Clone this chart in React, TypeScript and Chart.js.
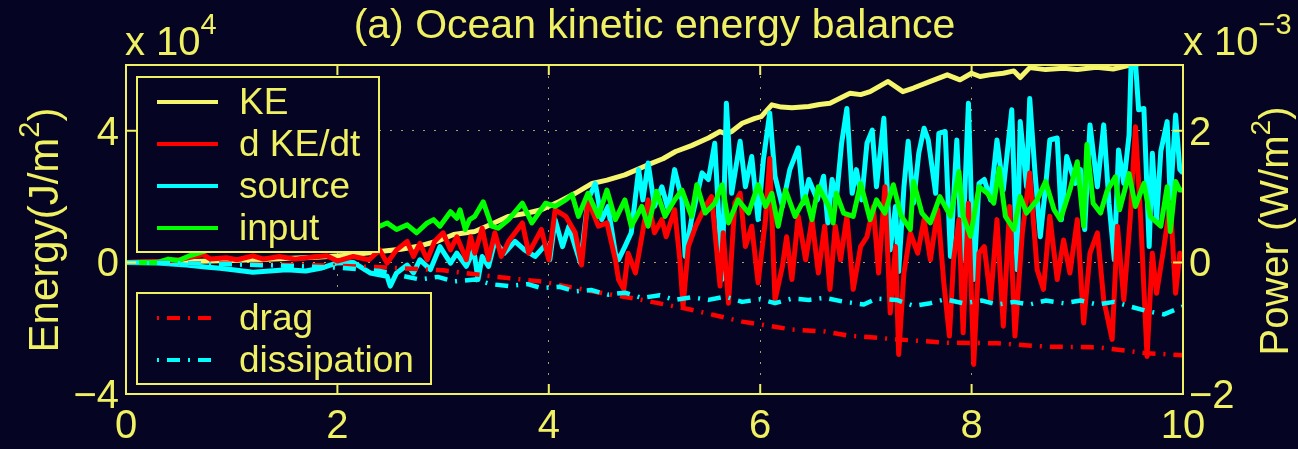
import { useEffect, useRef } from 'react';
import { Chart, registerables } from 'chart.js';

Chart.register(...registerables);

// ---------- data ----------
const xTicks = [0, 2, 4, 6, 8, 10];
const energyTicks = [-4, 0, 4];
const powerTicks = [-2, 0, 2];

const legendTop = ['KE', 'd KE/dt', 'source', 'input'];
const legendBottom = ['drag', 'dissipation'];

// KE (x 10^4 J/m^2), left axis
const keSeries: [number, number][] = [
  [0, 0], [0.3, 0.01], [0.6, 0.03], [1.0, 0.06], [1.4, 0.1], [1.8, 0.16], [2.1, 0.22], [2.4, 0.33],
  [2.6, 0.4], [2.78, 0.5], [2.95, 0.65], [3.1, 0.85], [3.3, 0.94], [3.45, 1.15], [3.62, 1.4], [3.8, 1.5],
  [3.93, 1.6], [4.1, 1.85], [4.25, 2.1], [4.41, 2.4], [4.55, 2.5], [4.72, 2.66], [4.94, 2.97], [5.08, 3.15],
  [5.2, 3.37], [5.35, 3.55], [5.51, 3.78], [5.62, 3.98], [5.68, 3.9], [5.73, 3.98], [5.83, 4.23], [5.95, 4.38],
  [6.01, 4.43], [6.11, 4.79], [6.2, 4.72], [6.3, 4.7], [6.46, 4.74], [6.56, 4.8], [6.66, 4.84], [6.85, 5.14],
  [6.95, 5.1], [7.04, 5.19], [7.21, 5.5], [7.35, 5.19], [7.45, 5.3], [7.61, 5.5], [7.77, 5.7], [7.89, 5.55],
  [8.0, 5.75], [8.08, 5.65], [8.17, 5.7], [8.3, 5.75], [8.4, 5.82], [8.46, 5.62], [8.55, 5.92], [8.7, 5.86],
  [8.87, 5.9], [9.0, 5.86], [9.18, 5.93], [9.34, 5.88], [9.5, 6.0], [9.7, 6.1], [10, 6.2],
];

// d KE/dt (x 10^-3 W/m^2), right axis
const dkeSeries: [number, number][] = [
  [0, 0], [0.3, 0.01], [0.5, 0.04], [0.62, 0.08], [0.73, 0.12], [0.8, 0.05], [0.95, 0.07], [1.05, 0.04],
  [1.2, 0.1], [1.3, 0.05], [1.45, 0.09], [1.6, 0.05], [1.75, 0.08], [1.9, 0.1], [2.0, 0.02], [2.15, 0.09],
  [2.3, 0.04], [2.4, 0.19], [2.47, -0.01], [2.56, 0.19], [2.66, 0.32], [2.72, 0.09], [2.78, 0.29], [2.85, 0.04],
  [2.92, 0.32], [3.0, 0.45], [3.07, 0.19], [3.13, 0.39], [3.22, 0.04], [3.26, 0.39], [3.3, 0.14], [3.37, 0.52],
  [3.43, 0.04], [3.49, 0.45], [3.55, 0.09], [3.62, 0.32], [3.75, 0.6], [3.81, 0.14], [3.93, 0.5], [4.0, 0.04],
  [4.06, 0.8], [4.16, 0.7], [4.25, 0.45], [4.31, -0.04], [4.37, 0.95], [4.47, 0.55], [4.55, 0.6], [4.63, 0.04],
  [4.66, -0.26], [4.71, -0.41], [4.75, 0.14], [4.82, -0.16], [4.88, 0.39], [4.94, 0.95], [5.0, 0.45], [5.07, 0.65],
  [5.11, 0.39], [5.19, 0.8], [5.24, 0.04], [5.27, -0.67], [5.32, 0.24], [5.39, 0.55], [5.48, 0.85], [5.54, 1.0],
  [5.62, -0.36], [5.65, 0.45], [5.7, -0.62], [5.76, 0.9], [5.81, 1.05], [5.86, 0.24], [5.92, 0.55], [5.98, -0.31],
  [6.05, 0.65], [6.09, 1.58], [6.14, -0.57], [6.21, -0.06], [6.25, 0.39], [6.3, -0.26], [6.36, 0.7], [6.43, 0.04],
  [6.49, 0.65], [6.55, -0.16], [6.61, 0.55], [6.66, -0.41], [6.71, 0.55], [6.76, 0.04], [6.82, 0.7], [6.88, -0.41],
  [6.95, 0.24], [7.01, 0.39], [7.07, 0.85], [7.12, -0.16], [7.18, 1.15], [7.23, -0.77], [7.28, 0.24], [7.31, -1.4],
  [7.36, -0.16], [7.42, 0.45], [7.49, 0.14], [7.55, 0.65], [7.61, 0.04], [7.68, 0.8], [7.74, -0.36], [7.79, -1.12],
  [7.83, 0.04], [7.88, 0.65], [7.92, -1.07], [7.97, 0.9], [8.02, -1.55], [8.07, 0.14], [8.12, 0.24], [8.18, -0.57],
  [8.24, 0.65], [8.3, -0.97], [8.36, 0.85], [8.41, -1.12], [8.48, 0.45], [8.55, 1.36], [8.62, -0.11], [8.68, -0.41],
  [8.74, 0.7], [8.81, -0.26], [8.87, 0.34], [8.93, -0.16], [9.0, 0.65], [9.06, -0.92], [9.12, 0.14], [9.19, 0.45],
  [9.25, -0.57], [9.33, -1.17], [9.38, 0.55], [9.44, -0.57], [9.5, 0.65], [9.55, 2.06], [9.6, 0.65], [9.66, -1.43],
  [9.71, 0.14], [9.75, -0.47], [9.82, 0.24], [9.88, 0.9], [9.93, -0.47], [9.97, 0.14], [10, 0.09],
];

// source (x 10^-3 W/m^2), right axis
const sourceSeries: [number, number][] = [
  [0, 0], [0.3, -0.01], [0.57, -0.04], [0.75, -0.07], [0.89, -0.09], [1.05, -0.12], [1.2, -0.15], [1.36, -0.13],
  [1.52, -0.11], [1.7, -0.13], [1.84, -0.09], [1.99, -0.01], [2.15, 0.0], [2.31, -0.16], [2.47, -0.21], [2.5, -0.36],
  [2.56, -0.16], [2.66, -0.04], [2.72, -0.16], [2.78, 0.04], [2.88, -0.11], [2.97, 0.24], [3.07, -0.01], [3.13, 0.14],
  [3.22, -0.06], [3.29, 0.19], [3.33, -0.26], [3.37, 0.09], [3.43, -0.06], [3.49, 0.32], [3.58, 0.14], [3.68, 0.32],
  [3.77, 0.19], [3.87, 0.09], [3.97, 0.27], [4.01, 0.04], [4.06, 0.65], [4.13, 0.24], [4.19, 0.55], [4.25, 0.24],
  [4.3, -0.01], [4.37, 0.95], [4.44, 1.2], [4.5, 0.65], [4.56, 0.85], [4.63, 0.14], [4.66, 0.04], [4.72, 0.24],
  [4.78, 0.45], [4.85, 1.41], [4.89, 0.95], [4.94, 1.51], [5.0, 0.85], [5.07, 1.15], [5.13, 0.8], [5.19, 1.41],
  [5.26, 0.95], [5.29, 0.09], [5.35, 0.65], [5.45, 1.36], [5.51, 1.26], [5.57, 1.81], [5.64, -0.26], [5.68, 2.42],
  [5.73, 1.05], [5.81, 1.84], [5.86, 1.15], [5.92, 1.61], [5.98, 0.65], [6.03, 1.56], [6.09, 2.27], [6.14, 1.31],
  [6.21, 0.85], [6.28, 1.41], [6.36, 1.74], [6.41, 0.9], [6.46, 1.26], [6.54, 0.95], [6.6, 1.31], [6.64, 0.6],
  [6.68, 1.26], [6.72, 0.95], [6.77, 1.81], [6.82, 2.34], [6.87, 1.05], [6.91, 1.41], [6.96, 0.95], [7.01, 1.81],
  [7.06, 2.01], [7.1, 1.15], [7.17, 2.19], [7.23, 0.19], [7.28, 0.85], [7.31, -0.14], [7.36, 1.15], [7.4, 1.84],
  [7.45, 0.9], [7.5, 1.66], [7.55, 2.04], [7.59, 1.86], [7.66, 1.05], [7.69, 1.96], [7.75, 1.99], [7.8, 0.09],
  [7.86, 1.86], [7.91, 0.04], [7.97, 2.42], [8.02, -0.26], [8.07, 1.2], [8.12, 1.26], [8.18, 0.95], [8.24, 1.86],
  [8.3, 1.1], [8.38, 2.32], [8.43, -0.11], [8.46, 2.14], [8.52, 1.15], [8.55, 2.49], [8.6, 1.36], [8.65, 0.39],
  [8.7, 1.15], [8.74, 1.86], [8.81, 1.89], [8.85, 0.65], [8.9, 1.61], [8.98, 1.2], [9.03, 1.41], [9.07, 0.5],
  [9.12, 2.09], [9.19, 1.15], [9.25, 2.09], [9.3, 0.9], [9.35, 0.04], [9.39, 1.71], [9.44, 1.2], [9.49, 1.94],
  [9.51, 3.1], [9.55, 3.05], [9.58, 2.32], [9.63, 2.34], [9.68, 0.24], [9.71, 1.66], [9.75, 0.65], [9.79, 1.69],
  [9.85, 2.14], [9.88, 0.95], [9.93, 2.24], [9.97, 1.41], [10, 1.36],
];

// input (x 10^-3 W/m^2), right axis
const inputSeries: [number, number][] = [
  [0, 0], [0.3, 0], [0.4, 0.05], [0.5, 0.03], [0.6, 0.1], [0.7, 0.15], [0.9, 0.25], [1.1, 0.3],
  [1.4, 0.35], [1.7, 0.4], [2.0, 0.45], [2.2, 0.5], [2.4, 0.55], [2.47, 0.6], [2.56, 0.5], [2.66, 0.57],
  [2.75, 0.45], [2.85, 0.6], [2.91, 0.65], [2.97, 0.55], [3.07, 0.77], [3.13, 0.67], [3.16, 0.8], [3.21, 0.5],
  [3.25, 0.65], [3.3, 0.7], [3.38, 0.92], [3.46, 0.55], [3.52, 0.52], [3.62, 0.65], [3.75, 0.9], [3.84, 0.6],
  [3.97, 0.9], [4.06, 0.85], [4.16, 0.95], [4.22, 1.03], [4.28, 0.7], [4.37, 1.05], [4.47, 0.7], [4.55, 1.1],
  [4.63, 0.65], [4.72, 0.95], [4.78, 0.55], [4.88, 0.85], [4.94, 0.55], [5.02, 1.08], [5.1, 0.7], [5.19, 0.95],
  [5.26, 1.1], [5.35, 0.7], [5.4, 1.18], [5.48, 0.75], [5.57, 0.9], [5.64, 1.18], [5.7, 0.6], [5.79, 0.95],
  [5.89, 0.75], [5.98, 1.18], [6.05, 0.85], [6.11, 1.05], [6.17, 0.55], [6.24, 1.1], [6.33, 0.7], [6.43, 1.0],
  [6.49, 0.65], [6.55, 1.15], [6.65, 0.85], [6.69, 0.6], [6.72, 1.05], [6.79, 0.75], [6.88, 0.7], [6.95, 1.2],
  [7.04, 0.65], [7.1, 0.95], [7.18, 0.75], [7.26, 1.18], [7.33, 0.72], [7.42, 0.5], [7.45, 1.23], [7.53, 0.75],
  [7.61, 0.6], [7.7, 1.0], [7.8, 0.7], [7.88, 1.38], [7.92, 0.7], [7.99, 0.4], [8.07, 1.15], [8.15, 1.05],
  [8.21, 0.9], [8.26, 1.43], [8.32, 0.7], [8.4, 0.5], [8.46, 1.0], [8.52, 0.75], [8.62, 0.95], [8.7, 1.23],
  [8.78, 0.8], [8.84, 0.65], [8.93, 1.1], [9.0, 1.53], [9.06, 0.55], [9.09, 1.79], [9.15, 0.9], [9.22, 0.75],
  [9.28, 1.08], [9.36, 1.3], [9.4, 0.8], [9.49, 1.35], [9.55, 0.85], [9.63, 1.2], [9.69, 0.7], [9.79, 0.55],
  [9.85, 1.15], [9.88, 0.47], [9.93, 1.23], [9.97, 1.1], [10, 1.1],
];

// drag (x 10^-3 W/m^2), right axis
const dragSeries: [number, number][] = [
  [0, 0], [0.5, -0.01], [1, -0.02], [1.5, -0.035], [2, -0.05], [2.5, -0.08], [3, -0.12], [3.5, -0.22],
  [3.93, -0.29], [4.41, -0.44], [4.88, -0.57], [5.35, -0.72], [5.83, -0.9], [6.3, -1.02], [6.61, -1.05],
  [6.82, -1.11], [7.29, -1.17], [7.77, -1.22], [8.24, -1.23], [8.71, -1.28], [9.19, -1.29], [9.66, -1.38], [10, -1.41],
];

// dissipation (x 10^-3 W/m^2), right axis
const dissipationSeries: [number, number][] = [
  [0, 0], [0.5, -0.01], [1, -0.03], [1.5, -0.05], [2, -0.08], [2.4, -0.13], [2.6, -0.2], [2.78, -0.26],
  [2.95, -0.22], [3.1, -0.29], [3.3, -0.26], [3.45, -0.33], [3.62, -0.36], [3.8, -0.33], [3.93, -0.39],
  [4.1, -0.37], [4.25, -0.44], [4.4, -0.42], [4.56, -0.49], [4.72, -0.46], [4.88, -0.54], [5.05, -0.5],
  [5.19, -0.57], [5.35, -0.53], [5.51, -0.57], [5.67, -0.52], [5.83, -0.6], [6.0, -0.56], [6.14, -0.62],
  [6.3, -0.55], [6.46, -0.57], [6.61, -0.54], [6.8, -0.6], [6.98, -0.64], [7.1, -0.55], [7.29, -0.57],
  [7.45, -0.66], [7.61, -0.62], [7.75, -0.56], [7.92, -0.62], [8.1, -0.58], [8.24, -0.64], [8.4, -0.6],
  [8.55, -0.64], [8.7, -0.58], [8.87, -0.62], [9.03, -0.58], [9.19, -0.64], [9.35, -0.6], [9.5, -0.67],
  [9.66, -0.74], [9.82, -0.79], [10, -0.67],
];

// ---------- styles ----------
const BG = 'rgb(5,5,35)';
const YEL = 'rgb(240,240,100)';
const KE_COLOR = 'rgb(245,245,110)';
const RED = 'rgb(255,0,0)';
const CYAN = 'rgb(0,255,255)';
const GREEN = 'rgb(0,255,0)';
const GRID = 'rgba(220,220,110,0.75)';
const FONT = '"Liberation Sans", Arial, Helvetica, sans-serif';
const DASHDOT = [13, 8, 2, 8];

const toPoints = (a: [number, number][]) => a.map(([x, y]) => ({ x, y }));
const fmt = (v: number) => (v < 0 ? '\u2212' + Math.abs(v) : String(v));

type Part = { text: string; size: number; dy?: number };
function drawRich(ctx: CanvasRenderingContext2D, parts: Part[], x: number, y: number, align: 'left' | 'center') {
  ctx.textAlign = 'left';
  ctx.textBaseline = 'alphabetic';
  let total = 0;
  for (const p of parts) {
    ctx.font = `${p.size}px ${FONT}`;
    total += ctx.measureText(p.text).width;
  }
  let cx = align === 'center' ? x - total / 2 : x;
  for (const p of parts) {
    ctx.font = `${p.size}px ${FONT}`;
    ctx.fillText(p.text, cx, y + (p.dy || 0));
    cx += ctx.measureText(p.text).width;
  }
}

const bgPlugin = {
  id: 'bg',
  beforeDraw(chart: any) {
    const ctx = chart.ctx;
    ctx.save();
    ctx.fillStyle = BG;
    ctx.fillRect(0, 0, chart.width, chart.height);
    ctx.restore();
  },
};

const framePlugin = {
  id: 'frame',
  afterDatasetsDraw(chart: any) {
    const { ctx, chartArea: a, scales } = chart;
    ctx.save();
    ctx.strokeStyle = YEL;
    ctx.lineWidth = 2;
    ctx.setLineDash([]);
    ctx.strokeRect(a.left, a.top, a.right - a.left, a.bottom - a.top);
    const L = 10;
    ctx.beginPath();
    for (const v of xTicks) {
      const px = scales.x.getPixelForValue(v);
      ctx.moveTo(px, a.bottom); ctx.lineTo(px, a.bottom - L);
      ctx.moveTo(px, a.top); ctx.lineTo(px, a.top + L);
    }
    for (const v of energyTicks) {
      const py = scales.y.getPixelForValue(v);
      ctx.moveTo(a.left, py); ctx.lineTo(a.left + L, py);
    }
    for (const v of powerTicks) {
      const py = scales.y1.getPixelForValue(v);
      ctx.moveTo(a.right, py); ctx.lineTo(a.right - L, py);
    }
    ctx.stroke();
    ctx.restore();
  },
};

const legendPlugin = {
  id: 'boxes',
  afterDraw(chart: any) {
    const ctx = chart.ctx;
    const ds = chart.data.datasets;
    const byLabel = (l: string) => ds.find((d: any) => d.label === l);
    const drawBox = (x: number, y: number, w: number, h: number, labels: string[], rowY: number[]) => {
      ctx.save();
      ctx.fillStyle = BG;
      ctx.fillRect(x, y, w, h);
      ctx.strokeStyle = YEL;
      ctx.lineWidth = 2;
      ctx.strokeRect(x, y, w, h);
      labels.forEach((lab, i) => {
        const d = byLabel(lab);
        const ly = rowY[i];
        ctx.strokeStyle = d.borderColor;
        ctx.lineWidth = 4;
        ctx.lineCap = 'butt';
        if (d.borderDash) {
          ctx.setLineDash(d.borderDash);
          ctx.lineDashOffset = 21;
        } else ctx.setLineDash([]);
        ctx.beginPath();
        ctx.moveTo(157, ly);
        ctx.lineTo(218, ly);
        ctx.stroke();
        ctx.setLineDash([]);
        ctx.fillStyle = YEL;
        ctx.font = `37px ${FONT}`;
        ctx.textAlign = 'left';
        ctx.textBaseline = 'alphabetic';
        ctx.fillText(lab, 239, ly + 12);
      });
      ctx.restore();
    };
    drawBox(137, 77, 242, 175, legendTop, [102, 144, 186, 228]);
    drawBox(137, 293, 294, 91, legendBottom, [318, 360]);
  },
};

const textPlugin = {
  id: 'texts',
  afterDraw(chart: any) {
    const { ctx, chartArea: a } = chart;
    ctx.save();
    ctx.fillStyle = YEL;
    // title
    ctx.font = `41px ${FONT}`;
    ctx.textAlign = 'center';
    ctx.textBaseline = 'alphabetic';
    ctx.fillText('(a) Ocean kinetic energy balance', (a.left + a.right) / 2, 38);
    // exponents
    drawRich(ctx, [{ text: 'x 10', size: 40 }, { text: '4', size: 29, dy: -21 }], a.left - 1, 55, 'left');
    drawRich(ctx, [{ text: 'x 10', size: 40 }, { text: '\u22123', size: 29, dy: -21 }], a.right, 55, 'left');
    // left axis label
    ctx.save();
    ctx.translate(58, 230);
    ctx.rotate(-Math.PI / 2);
    drawRich(ctx, [
      { text: 'Energy(J/m', size: 42 },
      { text: '2', size: 29, dy: -19 },
      { text: ')', size: 42 },
    ], 0, 0, 'center');
    ctx.restore();
    // right axis label
    ctx.save();
    ctx.translate(1288, 231);
    ctx.rotate(-Math.PI / 2);
    drawRich(ctx, [
      { text: 'Power (W/m', size: 40 },
      { text: '2', size: 28, dy: -18 },
      { text: ')', size: 40 },
    ], 0, 0, 'center');
    ctx.restore();
    ctx.restore();
  },
};

export default function App() {
  const ref = useRef<HTMLCanvasElement | null>(null);
  useEffect(() => {
    document.body.style.background = BG;
    const canvas = ref.current;
    if (!canvas) return;
    const line = (label: string, data: [number, number][], color: string, axis: string, order: number, width: number, dash?: number[]) => ({
      label,
      data: toPoints(data),
      yAxisID: axis,
      borderColor: color,
      backgroundColor: color,
      borderWidth: width,
      borderDash: dash,
      pointRadius: 0,
      tension: 0,
      fill: false,
      clip: 0,
      order,
    });
    const chart = new Chart(canvas, {
      type: 'line',
      data: {
        datasets: [
          line('KE', keSeries, KE_COLOR, 'y', 6, 5),
          line('source', sourceSeries, CYAN, 'y1', 5, 5),
          line('d KE/dt', dkeSeries, RED, 'y1', 4, 5),
          line('input', inputSeries, GREEN, 'y1', 3, 5),
          line('drag', dragSeries, RED, 'y1', 2, 4.5, DASHDOT),
          line('dissipation', dissipationSeries, CYAN, 'y1', 1, 4.5, DASHDOT),
        ] as any,
      },
      options: {
        responsive: false,
        animation: false,
        devicePixelRatio: 1,
        events: [],
        layout: { padding: { top: 65, left: 0, right: 0, bottom: 0 } },
        elements: { line: { borderJoinStyle: 'round', borderCapStyle: 'butt' } },
        plugins: { legend: { display: false }, title: { display: false }, tooltip: { enabled: false } },
        scales: {
          x: {
            type: 'linear',
            min: 0,
            max: 10,
            afterBuildTicks: (s: any) => { s.ticks = xTicks.map((v) => ({ value: v })); },
            afterFit: (s: any) => { s.height = 55; },
            ticks: {
              color: YEL,
              font: { family: FONT, size: 40 },
              padding: 9,
              maxRotation: 0,
              autoSkip: false,
              callback: (v: any) => fmt(Number(v)),
            },
            grid: {
              color: (c: any) => (c.tick && c.tick.value > 0 && c.tick.value < 10 ? GRID : 'rgba(0,0,0,0)'),
              lineWidth: 1,
              drawTicks: false,
            },
            border: { display: false, dash: [2, 9] },
          },
          y: {
            type: 'linear',
            position: 'left',
            min: -4,
            max: 6,
            afterBuildTicks: (s: any) => { s.ticks = energyTicks.map((v) => ({ value: v })); },
            afterFit: (s: any) => { s.width = 126; },
            ticks: {
              color: YEL,
              font: { family: FONT, size: 40 },
              padding: 7,
              labelOffset: 3,
              autoSkip: false,
              callback: (v: any) => fmt(Number(v)),
            },
            grid: {
              color: (c: any) => (c.tick && c.tick.value > -4 && c.tick.value < 6 ? GRID : 'rgba(0,0,0,0)'),
              lineWidth: 1,
              drawTicks: false,
            },
            border: { display: false, dash: [2, 9] },
          },
          y1: {
            type: 'linear',
            position: 'right',
            min: -2,
            max: 3,
            afterBuildTicks: (s: any) => { s.ticks = powerTicks.map((v) => ({ value: v })); },
            afterFit: (s: any) => { s.width = 115; },
            ticks: {
              color: YEL,
              font: { family: FONT, size: 40 },
              padding: 6,
              labelOffset: 3,
              autoSkip: false,
              callback: (v: any) => fmt(Number(v)),
            },
            grid: { drawOnChartArea: false, drawTicks: false },
            border: { display: false },
          },
        },
      } as any,
      plugins: [bgPlugin, framePlugin, legendPlugin, textPlugin],
    });
    return () => chart.destroy();
  }, []);
  return (
    <div style={{ position: 'fixed', left: 0, top: 0, width: 1298, height: 449, background: BG }}>
      <canvas ref={ref} width={1298} height={449} style={{ display: 'block' }} />
    </div>
  );
}
